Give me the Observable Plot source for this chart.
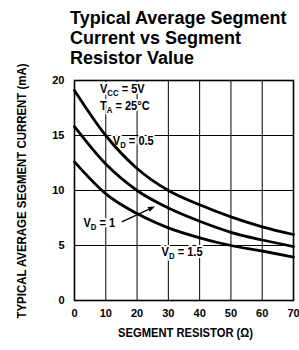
<!DOCTYPE html>
<html><head><meta charset="utf-8">
<script src="https://cdn.jsdelivr.net/npm/d3@7"></script>
<script src="https://cdn.jsdelivr.net/npm/@observablehq/plot@0.6"></script>
<style>
body{margin:0;background:#fff;}
#wrap{position:relative;width:299px;height:350px;overflow:hidden;background:#fff}
#title{position:absolute;left:70px;top:8px;font:bold 18px/20px "Liberation Sans",Arial,sans-serif;color:#000;white-space:nowrap;z-index:2}
#wrap svg{position:absolute;left:0;top:0}
</style></head><body>
<div id="wrap"><div id="title">Typical Average Segment<br>Current vs Segment<br>Resistor Value</div></div>
<script>
// ---- data ----
const resistor = [0, 10, 20, 30, 40, 50, 60, 70];           // Ω
const currentVd05 = [19.1, 15.0, 12.0, 10.0, 8.7, 7.6, 6.7, 6.0]; // mA
const currentVd10 = [15.8, 12.4, 10.0, 8.4, 7.2, 6.2, 5.5, 4.9];
const currentVd15 = [12.6, 9.7, 7.9, 6.6, 5.7, 5.0, 4.5, 3.95];
const seriesNames = ["VD = 0.5", "VD = 1", "VD = 1.5"];
const xTicks = [0, 10, 20, 30, 40, 50, 60, 70];
const yTicks = [0, 5, 10, 15, 20];
const xTitle = "SEGMENT RESISTOR (Ω)";
const yTitle = "TYPICAL AVERAGE SEGMENT CURRENT (mA)";
// annotations: main letter, subscript, remainder, anchor (Ω, mA)
const noteMain = ["V", "T", "V", "V", "V"];
const noteSub = ["CC", "A", "D", "D", "D"];
const noteRest = [" = 5V", " = 25°C", " = 0.5", " = 1", " = 1.5"];
const noteR = [8.3, 8.3, 12.4, 3.0, 28.0];
const noteI = [18.85, 17.3, 14.1, 6.66, 4.0];
const arrowFrom = [15.3, 7.1];
const arrowTo = [25.9, 8.5];

const seriesValues = [currentVd05, currentVd10, currentVd15];
const rows = [];
seriesNames.forEach((s, i) => resistor.forEach((r, j) => rows.push({r, c: seriesValues[i][j], s})));

const font = "'Liberation Sans',Arial,Helvetica,sans-serif";
const squeeze = 0.82; // condensed look

const chart = Plot.plot({
  width: 299, height: 350,
  marginLeft: 74, marginRight: 6, marginTop: 80, marginBottom: 50,
  style: {fontFamily: font, fontWeight: "bold", fontSize: "11px", color: "#000", background: "transparent", overflow: "visible"},
  x: {domain: [0, 70]},
  y: {domain: [0, 20]},
  marks: [
    Plot.gridX(xTicks, {stroke: "#000", strokeOpacity: 1, strokeWidth: 1}),
    Plot.gridY(yTicks, {stroke: "#000", strokeOpacity: 1, strokeWidth: 1}),
    Plot.frame({stroke: "#000", strokeWidth: 1.6}),
    Plot.axisX(xTicks, {tickSize: 0, tickPadding: 9, label: null, fill: "#000"}),
    Plot.axisY(yTicks, {tickSize: 0, tickPadding: 10, label: null, fill: "#000"}),
    Plot.line(rows, {x: "r", y: "c", z: "s", stroke: "#000", strokeWidth: 2.8, curve: "monotone-x"})
  ]
});
document.getElementById("wrap").appendChild(chart);

const xs = chart.scale("x"), ys = chart.scale("y");
const svg = d3.select(chart);
const lineG = chart.querySelector('g[aria-label="line"]');
const annG = document.createElementNS("http://www.w3.org/2000/svg", "g");
chart.insertBefore(annG, lineG);
const ann = d3.select(annG);

noteMain.forEach((m, i) => {
  const t = ann.append("text")
    .attr("transform", `translate(${xs.apply(noteR[i])},${ys.apply(noteI[i])}) scale(${squeeze},1)`)
    .attr("text-anchor", "start")
    .attr("font-family", font).attr("font-weight", "bold").attr("font-size", 13.5)
    .attr("fill", "#000").attr("stroke", "#fff").attr("stroke-width", 4)
    .attr("stroke-linejoin", "round").attr("paint-order", "stroke");
  t.append("tspan").text(m);
  t.append("tspan").attr("font-size", 9.5).attr("dy", 3).text(noteSub[i]);
  t.append("tspan").attr("dy", -3).text(noteRest[i]);
});

// arrow
const ax0 = xs.apply(arrowFrom[0]), ay0 = ys.apply(arrowFrom[1]);
const ax1 = xs.apply(arrowTo[0]), ay1 = ys.apply(arrowTo[1]);
const ang = Math.atan2(ay1 - ay0, ax1 - ax0);
const hl = 7, hw = 2.6;
const bx = ax1 - hl * Math.cos(ang), by = ay1 - hl * Math.sin(ang);
svg.append("line").attr("x1", ax0).attr("y1", ay0).attr("x2", bx).attr("y2", by)
  .attr("stroke", "#000").attr("stroke-width", 1.3);
svg.append("path")
  .attr("d", `M${ax1},${ay1}L${bx - hw * Math.sin(ang)},${by + hw * Math.cos(ang)}L${bx + hw * Math.sin(ang)},${by - hw * Math.cos(ang)}Z`)
  .attr("fill", "#000");

// axis titles
const xr = xs.range, yr = ys.range;
svg.append("text").attr("x", (xr[0] + xr[1]) / 2 + 2).attr("y", 337)
  .attr("text-anchor", "middle").attr("font-family", font).attr("font-weight", "bold")
  .attr("font-size", 13).attr("textLength", 135).attr("lengthAdjust", "spacingAndGlyphs")
  .attr("fill", "#000").text(xTitle);
svg.append("text").attr("transform", `translate(26,${(yr[0] + yr[1]) / 2 + 1}) rotate(-90)`)
  .attr("text-anchor", "middle").attr("font-family", font).attr("font-weight", "bold")
  .attr("font-size", 12).attr("textLength", 255).attr("lengthAdjust", "spacingAndGlyphs")
  .attr("fill", "#000").text(yTitle);
</script>
</body></html>
